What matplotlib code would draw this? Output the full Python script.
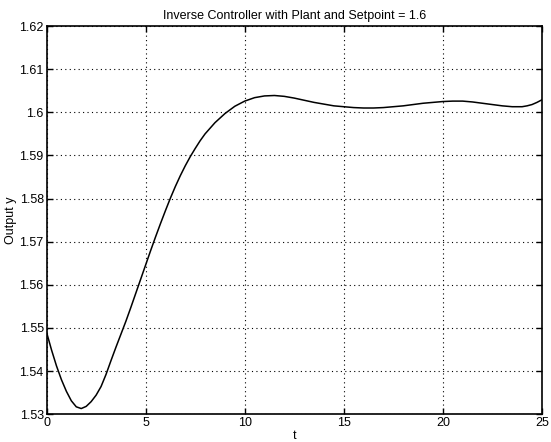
import matplotlib
matplotlib.use("Agg")
import matplotlib.pyplot as plt

plt.rcParams['font.family'] = ['Liberation Sans', 'DejaVu Sans']

# values
t = [0, 0.25, 0.5, 0.75, 1.0, 1.25, 1.5, 1.75, 2.0, 2.25, 2.5, 2.75, 3.0, 3.25,
     3.5, 3.75, 4.0, 4.25, 4.5, 4.75, 5.0, 5.25, 5.5, 5.75, 6.0, 6.25, 6.5, 6.75,
     7.0, 7.25, 7.5, 7.75, 8.0, 8.5, 9.0, 9.5, 10.0, 10.5, 11.0, 11.5, 12.0, 12.5,
     13.0, 13.5, 14.0, 14.5, 15.0, 15.5, 16.0, 16.5, 17.0, 17.5, 18.0, 18.5, 19.0,
     19.5, 20.0, 20.5, 21.0, 21.5, 22.0, 22.5, 23.0, 23.5, 24.0, 24.25, 24.5,
     24.75, 25.0]
y = [1.5490, 1.5449, 1.5412, 1.5380, 1.5353, 1.5331, 1.5317, 1.5313, 1.5318,
     1.5329, 1.5344, 1.5364, 1.5392, 1.5424, 1.5455, 1.5485, 1.5515, 1.5547,
     1.5580, 1.5613, 1.5646, 1.5679, 1.5711, 1.5742, 1.5772, 1.5801, 1.5828,
     1.5853, 1.5876, 1.5897, 1.5916, 1.5934, 1.5950, 1.5976, 1.5997, 1.6014,
     1.6026, 1.6034, 1.6038, 1.6039, 1.6037, 1.6033, 1.6028, 1.6023, 1.6019,
     1.6015, 1.6013, 1.6011, 1.6010, 1.6010, 1.6011, 1.6013, 1.6015, 1.6018,
     1.6021, 1.6023, 1.6025, 1.6026, 1.6026, 1.6024, 1.6021, 1.6018, 1.6015,
     1.6013, 1.6013, 1.6015, 1.6018, 1.6023, 1.6029]

xticks = [0, 5, 10, 15, 20, 25]
yticks = [1.53, 1.54, 1.55, 1.56, 1.57, 1.58, 1.59, 1.60, 1.61, 1.62]
yticklabels = ['1.53', '1.54', '1.55', '1.56', '1.57', '1.58', '1.59', '1.6', '1.61', '1.62']

fig = plt.figure(figsize=(5.51, 4.42), dpi=100)
ax = fig.add_axes([0.0845, 0.063, 0.899, 0.878])

ax.plot(t, y, color='black', linewidth=1.1)

ax.set_xlim(0, 25)
ax.set_ylim(1.53, 1.62)
ax.set_xticks(xticks)
ax.set_yticks(yticks)
ax.set_yticklabels(yticklabels)
ax.grid(True, linestyle=(0, (1, 3)), color='black', linewidth=0.8)
ax.tick_params(direction='in', length=4, labelsize=9, width=1, pad=2,
               top=True, right=True)
for s in ax.spines.values():
    s.set_linewidth(1.2)

ax.set_title('Inverse Controller with Plant and Setpoint = 1.6', fontsize=9, pad=5)
ax.set_xlabel('t', fontsize=9, labelpad=1)
ax.set_ylabel('Output y', fontsize=9, labelpad=2)

fig.savefig('out.png', dpi=100)
